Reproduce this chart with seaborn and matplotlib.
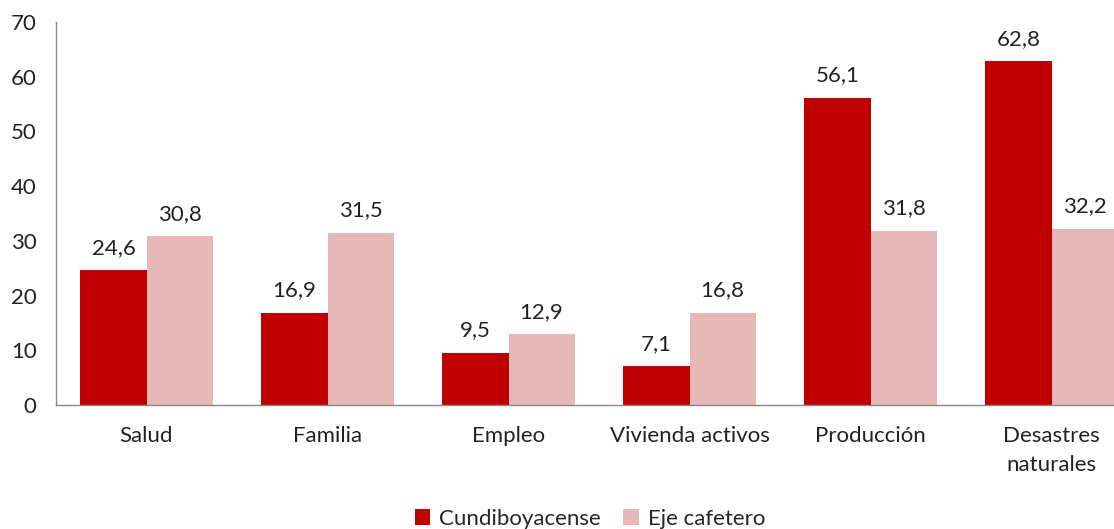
import matplotlib
matplotlib.use("Agg")
import matplotlib.pyplot as plt
import seaborn as sns
import pandas as pd

categories = ["Salud", "Familia", "Empleo", "Vivienda activos", "Producción", "Desastres\nnaturales"]
series_names = ["Cundiboyacense", "Eje cafetero"]
cundiboyacense = [24.6, 16.9, 9.5, 7.1, 56.1, 62.8]
eje_cafetero = [30.8, 31.5, 12.9, 16.8, 31.8, 32.2]
colors = ["#C00000", "#E6B9B8"]

df = pd.DataFrame({
    "cat": categories * 2,
    "serie": [series_names[0]] * len(categories) + [series_names[1]] * len(categories),
    "val": cundiboyacense + eje_cafetero,
})

sns.set_theme(style="white")
plt.rcParams["font.family"] = ["Lato", "DejaVu Sans"]

FS = 16

fig = plt.figure(figsize=(11.14, 5.29), dpi=100)
ax = fig.add_axes([56 / 1114, 1 - 405 / 529, (1142 - 56) / 1114, (405 - 22) / 529])

sns.barplot(data=df, x="cat", y="val", hue="serie", palette=colors, width=0.73,
            saturation=1, ax=ax, order=categories, hue_order=series_names,
            linewidth=0, edgecolor="none")

for cont in ax.containers:
    ax.bar_label(cont, labels=[f"{v:.1f}".replace(".", ",") for v in cont.datavalues],
                 padding=9, fontsize=FS, color="#222222")

ax.set_ylim(0, 70)
ax.set_yticks(range(0, 71, 10))
ax.set_xlabel("")
ax.set_ylabel("")
ax.tick_params(axis="both", labelsize=FS, colors="#222222", length=0)
ax.tick_params(axis="y", pad=14)
ax.tick_params(axis="x", pad=15)
for lbl in ax.get_xticklabels():
    lbl.set_linespacing(1.55)
for s in ["top", "right"]:
    ax.spines[s].set_visible(False)
for s in ["left", "bottom"]:
    ax.spines[s].set_color("#888888")
    ax.spines[s].set_linewidth(1)

ax.legend(loc="center", bbox_to_anchor=(590 / 1114, 1 - 519 / 529), bbox_transform=fig.transFigure,
          ncol=2, frameon=False, fontsize=FS, handlelength=0.7, handleheight=0.7,
          columnspacing=1.0, handletextpad=0.4)

fig.savefig("out.png", dpi=100)
